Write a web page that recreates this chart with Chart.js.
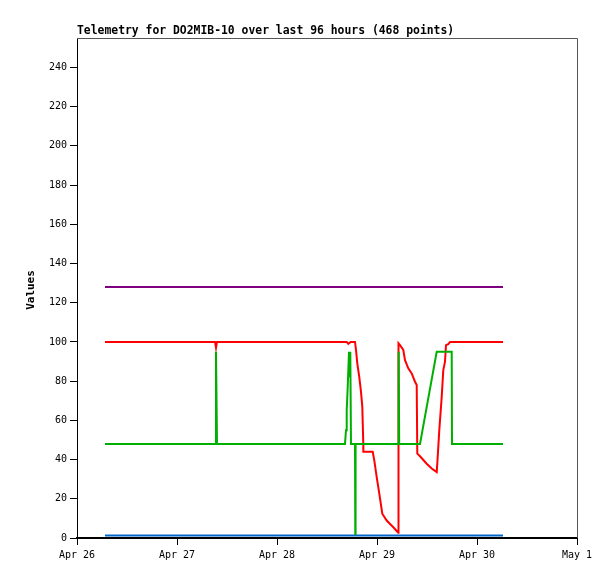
<!DOCTYPE html>
<html>
<head>
<meta charset="utf-8">
<script src="https://cdn.jsdelivr.net/npm/chart.js@4"></script>
<style>
  html, body { margin: 0; padding: 0; background: #fff; }
  canvas { display: block; }
</style>
</head>
<body>
<canvas id="telemetryChart" width="615" height="579"></canvas>
<script>
// hours since Apr 26 00:00
const dayTicks = [0, 24, 48, 72, 96, 120];
const dayLabels = ['Apr 26', 'Apr 27', 'Apr 28', 'Apr 29', 'Apr 30', 'May 1'];
const valueTicks = [0, 20, 40, 60, 80, 100, 120, 140, 160, 180, 200, 220, 240];

const greenHours = [6.72, 33.24, 33.36, 33.48, 33.6, 64.32, 64.56, 64.73, 64.97, 65.28, 65.45, 65.59, 65.76, 66.72, 66.79, 66.86, 77.11, 77.2, 77.33, 82.32, 86.33, 89.93, 90.0, 102.24];
const greenValues = [48, 48, 95, 72, 48, 48, 55, 65, 77, 95, 82, 95, 48, 48, 2, 48, 48, 95, 48, 48, 95, 95, 48, 48];

const redHours = [6.72, 33.12, 33.36, 33.6, 64.73, 65.11, 65.69, 66.72, 66.96, 67.27, 67.75, 68.16, 68.47, 68.71, 68.72, 70.97, 71.35, 71.93, 72.55, 73.27, 74.33, 75.91, 77.11, 77.16, 77.52, 78.31, 78.72, 79.51, 80.33, 81.12, 81.53, 81.67, 82.32, 83.93, 85.13, 86.33, 86.47, 86.95, 87.53, 87.91, 88.32, 88.56, 89.11, 89.52, 102.24];
const redValues = [100, 100, 97, 100, 100, 99, 100, 100, 96, 89, 82, 74.5, 67, 48, 44, 44, 39.6, 31, 22.6, 12.4, 8.9, 5.5, 2.7, 99.3, 98.4, 95.9, 90.7, 86.5, 83.9, 79.7, 78, 43, 41.7, 37.9, 35.4, 33.6, 37.9, 55, 72, 85.6, 89.9, 98.4, 98.9, 100, 100];

const purpleHours = [6.72, 102.24];
const purpleValues = [128, 128];

const blueHours = [6.72, 102.24];
const blueValues = [1.3, 1.3];

const monoFont = "'DejaVu Sans Mono', 'Liberation Mono', monospace";

function toPoints(xs, ys) {
  return xs.map((x, i) => ({ x: x, y: ys[i] }));
}

function series(label, xs, ys, color) {
  return {
    label: label,
    data: toPoints(xs, ys),
    borderColor: color,
    backgroundColor: color,
    borderWidth: 2,
    pointRadius: 0,
    tension: 0,
    fill: false,
  };
}

const framePlugin = {
  id: 'frame',
  afterDraw(chart) {
    const ctx = chart.ctx;
    const a = chart.chartArea;
    ctx.save();
    ctx.strokeStyle = '#555';
    ctx.lineWidth = 1;
    ctx.beginPath();
    ctx.moveTo(a.left, a.top + 0.5);
    ctx.lineTo(a.right + 0.5, a.top + 0.5);
    ctx.lineTo(a.right + 0.5, a.bottom);
    ctx.stroke();

    ctx.fillStyle = '#000';
    ctx.font = 'bold 11.4px ' + monoFont;
    ctx.textBaseline = 'middle';
    ctx.textAlign = 'left';
    ctx.fillText('Telemetry for DO2MIB-10 over last 96 hours (468 points)', a.left, 31);

    ctx.translate(31, 290);
    ctx.rotate(-Math.PI / 2);
    ctx.textAlign = 'center';
    ctx.font = 'bold 11px ' + monoFont;
    ctx.fillText('Values', 0, 0);
    ctx.restore();
  },
};

new Chart(document.getElementById('telemetryChart'), {
  type: 'line',
  data: {
    datasets: [
      series('green', greenHours, greenValues, '#00b000'),
      series('red', redHours, redValues, '#ff0000'),
      series('purple', purpleHours, purpleValues, '#7f007f'),
      series('blue', blueHours, blueValues, '#0066cc'),
    ],
  },
  options: {
    responsive: false,
    animation: false,
    devicePixelRatio: 1,
    layout: { padding: { left: 0, top: 38, right: 38, bottom: 0 } },
    plugins: {
      legend: { display: false },
      tooltip: { enabled: false },
    },
    scales: {
      x: {
        type: 'linear',
        min: 0,
        max: 120,
        afterBuildTicks: (scale) => {
          scale.ticks = dayTicks.map((v) => ({ value: v }));
        },
        afterFit: (scale) => { scale.height = 41; },
        ticks: {
          autoSkip: false,
          maxRotation: 0,
          padding: 4,
          color: '#000',
          font: { family: monoFont, size: 10 },
          callback: (value) => dayLabels[dayTicks.indexOf(value)],
        },
        grid: { drawOnChartArea: false, drawTicks: true, tickLength: 7, tickColor: '#000' },
        border: { color: '#000', width: 2 },
      },
      y: {
        min: 0,
        max: 255,
        afterBuildTicks: (scale) => {
          scale.ticks = valueTicks.map((v) => ({ value: v }));
        },
        afterFit: (scale) => { scale.width = 77; },
        ticks: {
          padding: 3,
          color: '#000',
          font: { family: monoFont, size: 10 },
        },
        grid: { drawOnChartArea: false, drawTicks: true, tickLength: 7, tickColor: '#000' },
        border: { color: '#000', width: 1 },
      },
    },
  },
  plugins: [framePlugin],
});
</script>
</body>
</html>
